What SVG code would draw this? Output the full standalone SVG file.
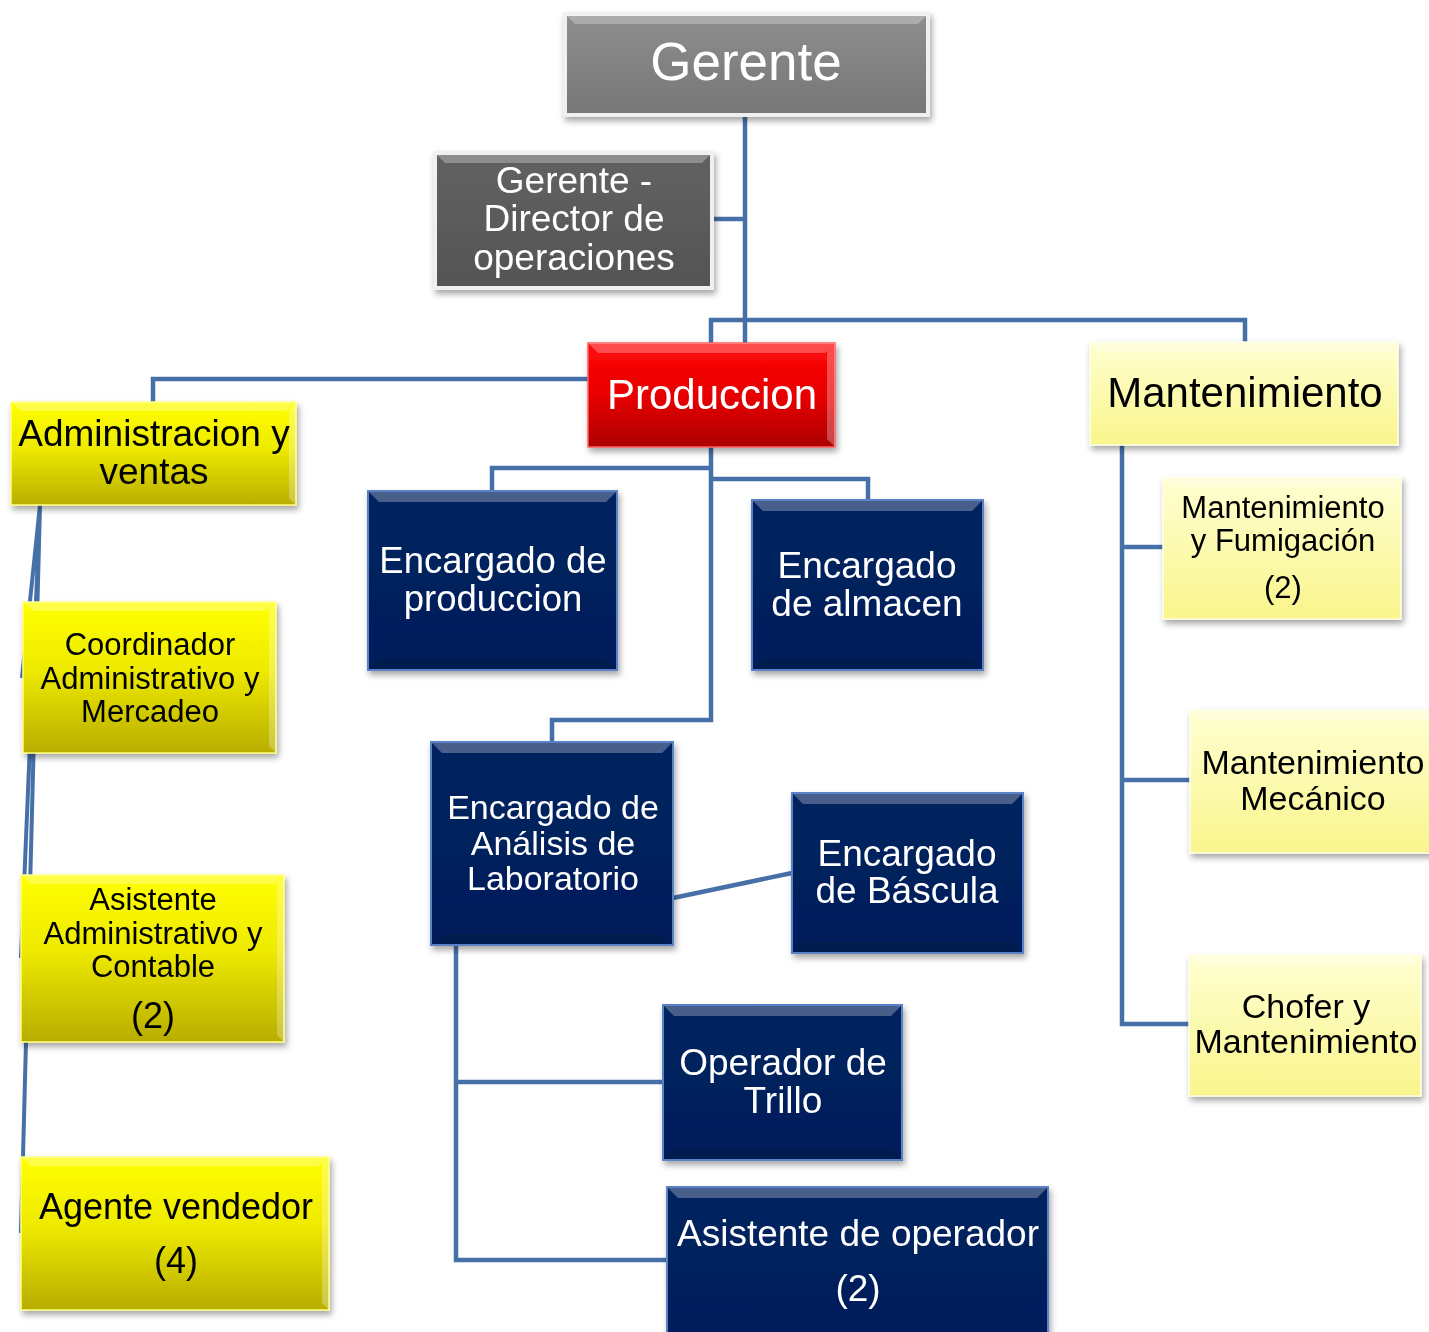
<svg xmlns="http://www.w3.org/2000/svg" width="1429" height="1332" viewBox="0 0 1429 1332">
<defs>
<linearGradient id="gGray" x1="0" y1="0" x2="0" y2="1"><stop offset="0" stop-color="#8e8e8e"/><stop offset="1" stop-color="#767676"/></linearGradient>
<linearGradient id="gDark" x1="0" y1="0" x2="0" y2="1"><stop offset="0" stop-color="#626262"/><stop offset="1" stop-color="#545454"/></linearGradient>
<linearGradient id="gRed" x1="0" y1="0" x2="0" y2="1"><stop offset="0" stop-color="#ff0a0a"/><stop offset="0.5" stop-color="#e80000"/><stop offset="1" stop-color="#ad0000"/></linearGradient>
<linearGradient id="gYel" x1="0" y1="0" x2="0" y2="1"><stop offset="0" stop-color="#ffff00"/><stop offset="0.45" stop-color="#eeea00"/><stop offset="1" stop-color="#b8ad00"/></linearGradient>
<linearGradient id="gPale" x1="0" y1="0" x2="0" y2="1"><stop offset="0" stop-color="#ffffd2"/><stop offset="1" stop-color="#f9f58c"/></linearGradient>
<linearGradient id="gNavy" x1="0" y1="0" x2="0" y2="1"><stop offset="0" stop-color="#05225f"/><stop offset="1" stop-color="#001e5a"/></linearGradient>
<filter id="sh" x="-10%" y="-10%" width="125%" height="130%"><feDropShadow dx="2" dy="4" stdDeviation="3" flood-color="#000" flood-opacity="0.35"/></filter>
</defs>
<style>
.con{fill:none;stroke:#4670a8;stroke-width:4.5}
.thin{stroke-width:4}
.box{filter:url(#sh)}
.gray{fill:url(#gGray);stroke:#f0f0f0;stroke-width:4}
.dark{fill:url(#gDark);stroke:#f0f0f0;stroke-width:4}
.red{fill:url(#gRed);stroke:#ff6060;stroke-width:1.5}
.yel{fill:url(#gYel);stroke:#ffff80;stroke-width:1.5}
.pale{fill:url(#gPale);stroke:#ffffe8;stroke-width:1.5}
.navy{fill:url(#gNavy);stroke:#5a82c8;stroke-width:2}
.hi{fill:#ffffff;opacity:0.28}
.lo{fill:#000000;opacity:0.12}
text{font-family:"Liberation Sans",Arial,sans-serif;text-anchor:middle}
.w{fill:#ffffff}
.k{fill:#000000}
</style>
<g id="connectors">
<path class="con" d="M745,115 V343 M712,219 H745 M711,343 V320 H1245 V342"/>
<path class="con" d="M588,379 H153 V402"/>
<path class="con" d="M711,447 V720 H552 V742 M711,468 H492 V491 M711,479 H868 V500"/>
<path class="con" d="M673,898 L792,873"/>
<path class="con" d="M456,945 V1260 H667 M456,1082 H663"/>
<path class="con" d="M1122,445 V1024 H1189 M1122,547 H1163 M1122,780 H1190"/>
<path class="con thin" d="M40,505 L22,678 M40,505 L21,958 M40,505 L21,1233"/>
</g>
<g id="gerente" class="box">
<rect class="gray" x="565" y="14" width="363" height="101"/>
<path class="hi" d="M567,16 H926 L918,24 H575 Z"/>
<text class="w" x="746" y="80" font-size="53">Gerente</text>
</g>
<g id="director" class="box">
<rect class="dark" x="435" y="153" width="277" height="135"/>
<path class="hi" d="M437,155 H710 L702,163 H445 Z"/>
<text class="w" font-size="37"><tspan x="574" y="193">Gerente -</tspan><tspan x="574" y="231">Director de</tspan><tspan x="574" y="270">operaciones</tspan></text>
</g>
<g id="produccion" class="box">
<rect class="red" x="588" y="343" width="247" height="104"/>
<path class="hi" d="M588,343 H835 L825,353 H598 Z"/>
<path class="hi" d="M835,343 V447 L827,439 V351 Z"/>
<text class="w" x="712" y="409" font-size="42">Produccion</text>
</g>
<g id="mantenimiento" class="box">
<rect class="pale" x="1090" y="342" width="308" height="103"/>
<path class="hi" d="M1090,342 H1398 L1388,352 H1100 Z"/>
<text class="k" x="1245" y="407" font-size="42">Mantenimiento</text>
</g>
<g id="admin" class="box">
<rect class="yel" x="11" y="402" width="285" height="103"/>
<path class="hi" d="M11,402 H296 L286,411 H21 Z"/>
<path class="hi" d="M296,402 V505 L289,498 V409 Z"/>
<text class="k" font-size="37"><tspan x="154" y="446">Administracion y</tspan><tspan x="154" y="484">ventas</tspan></text>
</g>
<g id="coordinador" class="box">
<rect class="yel" x="23" y="602" width="253" height="151"/>
<path class="hi" d="M23,602 H276 L266,611 H33 Z"/>
<path class="hi" d="M276,602 V753 L269,746 V609 Z"/>
<text class="k" font-size="31"><tspan x="150" y="655">Coordinador</tspan><tspan x="150" y="689">Administrativo y</tspan><tspan x="150" y="722">Mercadeo</tspan></text>
</g>
<g id="asistente-admin" class="box">
<rect class="yel" x="21" y="875" width="263" height="167"/>
<path class="hi" d="M21,875 H284 L274,884 H31 Z"/>
<path class="hi" d="M284,875 V1042 L277,1035 V882 Z"/>
<text class="k" font-size="31"><tspan x="153" y="910">Asistente</tspan><tspan x="153" y="944">Administrativo y</tspan><tspan x="153" y="977">Contable</tspan></text>
<text class="k" x="153" y="1028" font-size="36">(2)</text>
</g>
<g id="agente" class="box">
<rect class="yel" x="21" y="1157" width="308" height="153"/>
<path class="hi" d="M21,1157 H329 L319,1166 H31 Z"/>
<path class="hi" d="M329,1157 V1310 L322,1303 V1164 Z"/>
<text class="k" font-size="36"><tspan x="176" y="1219">Agente vendedor</tspan><tspan x="176" y="1273">(4)</tspan></text>
</g>
<g id="enc-produccion" class="box">
<rect class="navy" x="368" y="491" width="249" height="179"/>
<path class="hi" d="M369,492 H616 L606,502 H379 Z"/>
<path class="lo" d="M369,669 H616 L606,659 H379 Z"/>
<text class="w" font-size="36.5"><tspan x="493" y="573">Encargado de</tspan><tspan x="493" y="611">produccion</tspan></text>
</g>
<g id="enc-almacen" class="box">
<rect class="navy" x="752" y="500" width="231" height="170"/>
<path class="hi" d="M753,501 H982 L972,511 H763 Z"/>
<path class="lo" d="M753,669 H982 L972,659 H763 Z"/>
<text class="w" font-size="37"><tspan x="867" y="578">Encargado</tspan><tspan x="867" y="616">de almacen</tspan></text>
</g>
<g id="enc-laboratorio" class="box">
<rect class="navy" x="431" y="742" width="242" height="203"/>
<path class="hi" d="M432,743 H672 L662,753 H442 Z"/>
<path class="lo" d="M432,944 H672 L662,934 H442 Z"/>
<text class="w" font-size="34"><tspan x="553" y="819">Encargado de</tspan><tspan x="553" y="855">Análisis de</tspan><tspan x="553" y="890">Laboratorio</tspan></text>
</g>
<g id="enc-bascula" class="box">
<rect class="navy" x="792" y="793" width="231" height="160"/>
<path class="hi" d="M793,794 H1022 L1012,804 H803 Z"/>
<path class="lo" d="M793,952 H1022 L1012,942 H803 Z"/>
<text class="w" font-size="37"><tspan x="907" y="866">Encargado</tspan><tspan x="907" y="903">de Báscula</tspan></text>
</g>
<g id="operador-trillo" class="box">
<rect class="navy" x="663" y="1005" width="239" height="155"/>
<path class="hi" d="M664,1006 H901 L891,1016 H674 Z"/>
<path class="lo" d="M664,1159 H901 L891,1149 H674 Z"/>
<text class="w" font-size="37"><tspan x="783" y="1075">Operador de</tspan><tspan x="783" y="1113">Trillo</tspan></text>
</g>
<g id="asistente-operador" class="box">
<rect class="navy" x="667" y="1187" width="381" height="155"/>
<path class="hi" d="M668,1188 H1047 L1037,1198 H678 Z"/>
<text class="w" font-size="37"><tspan x="858" y="1246">Asistente de operador</tspan><tspan x="858" y="1301">(2)</tspan></text>
</g>
<g id="mant-fumigacion" class="box">
<rect class="pale" x="1163" y="477" width="238" height="142"/>
<path class="hi" d="M1163,477 H1401 L1391,487 H1173 Z"/>
<text class="k" font-size="31"><tspan x="1283" y="518">Mantenimiento</tspan><tspan x="1283" y="551">y Fumigación</tspan><tspan x="1283" y="598">(2)</tspan></text>
</g>
<g id="mant-mecanico" class="box">
<rect class="pale" x="1190" y="710" width="250" height="143"/>
<path class="hi" d="M1190,710 H1440 L1430,720 H1200 Z"/>
<text class="k" font-size="34"><tspan x="1313" y="774">Mantenimiento</tspan><tspan x="1313" y="810">Mecánico</tspan></text>
</g>
<g id="chofer" class="box">
<rect class="pale" x="1189" y="955" width="232" height="141"/>
<path class="hi" d="M1189,955 H1421 L1411,965 H1199 Z"/>
<text class="k" font-size="34"><tspan x="1306" y="1018">Chofer y</tspan><tspan x="1306" y="1053">Mantenimiento</tspan></text>
</g>
</svg>
